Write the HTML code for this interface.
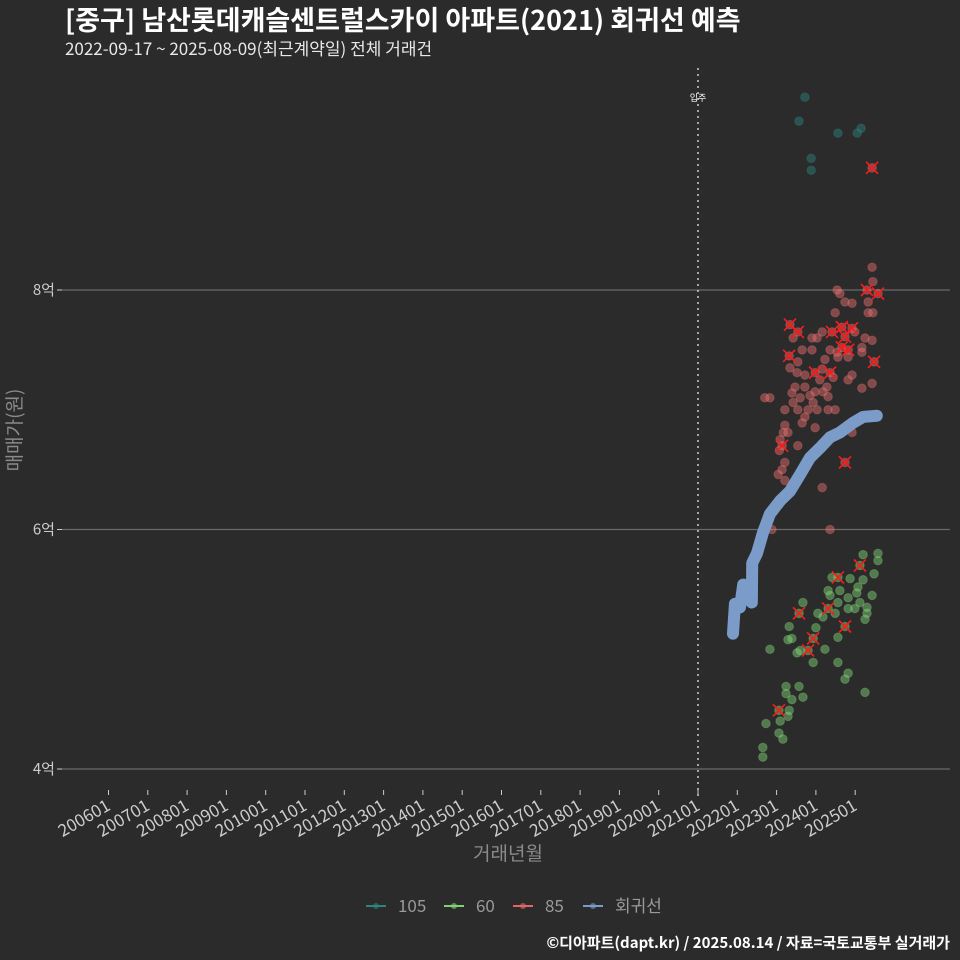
<!DOCTYPE html>
<html><head><meta charset="utf-8">
<style>
html,body{margin:0;padding:0;background:#2b2b2b;}
svg{display:block;}
text{font-family:"Noto Sans CJK KR","Liberation Sans",sans-serif;}
</style></head>
<body>
<svg id="chart" width="960" height="960" viewBox="0 0 960 960">
<rect width="960" height="960" fill="#2b2b2b"/>
<text x="65" y="30" fill="#ffffff" font-size="27" font-weight="bold">[중구] 남산롯데캐슬센트럴스카이 아파트(2021) 회귀선 예측</text>
<text x="65" y="55" fill="#e8e8e8" font-size="17">2022-09-17 ~ 2025-08-09(최근계약일) 전체 거래건</text>
<g id="grid"></g>
<g id="yaxis"></g>
<g id="xaxis"></g>
<g id="marks"></g>
<text transform="translate(21,430) rotate(-90)" text-anchor="middle" fill="#8a8a8a" font-size="19">매매가(원)</text>
<text x="508" y="860" text-anchor="middle" fill="#8a8a8a" font-size="19">거래년월</text>
<g id="legend"></g>
<text x="950" y="948" text-anchor="end" fill="#ffffff" font-size="15" font-weight="bold">©디아파트(dapt.kr) / 2025.08.14 / 자료=국토교통부 실거래가</text>
</svg>
<script>
const yTicks = [4, 6, 8];
const yTickLabels = ["4억", "6억", "8억"];
const xTickYears = [2006,2007,2008,2009,2010,2011,2012,2013,2014,2015,2016,2017,2018,2019,2020,2021,2022,2023,2024,2025];
const xTickLabels = ["200601","200701","200801","200901","201001","201101","201201","201301","201401","201501","201601","201701","201801","201901","202001","202101","202201","202301","202401","202501"];
const moveInYear = 2021;

const t105 = [2023.72,2023.57,2023.88,2023.88,2024.56,2025.05,2025.15];
const v105 = [9.61,9.41,9.10,9.00,9.31,9.31,9.35];

const t85 = [2025.43,2025.45,2025.30,2025.58,2024.54,2024.61,2024.74,2024.92,2025.33,2025.45,2025.33,2023.34,2023.54,2023.42,2023.90,2024.03,2024.16,2024.41,2024.49,2024.66,2024.92,2024.99,2024.74,2025.25,2025.43,2024.66,2024.82,2024.36,2024.54,2025.17,2025.17,2023.65,2023.90,2023.32,2024.82,2024.56,2024.23,2023.34,2023.54,2023.98,2024.16,2024.36,2024.44,2023.72,2023.52,2025.48,2024.92,2024.82,2025.17,2025.43,2024.10,2024.28,2023.47,2023.39,2023.72,2023.98,2024.18,2024.31,2023.85,2022.70,2022.83,2023.60,2023.42,2023.93,2024.03,2023.80,2023.21,2023.54,2023.72,2024.31,2024.49,2023.65,2023.21,2023.17,2023.29,2023.98,2023.14,2023.54,2024.92,2024.74,2023.21,2023.14,2023.04,2023.21,2024.16,2022.88,2024.36,2025.43,2023.09,2023.07];
const v85 = [8.19,8.07,8.00,7.97,8.00,7.97,7.90,7.89,7.90,7.81,7.81,7.71,7.65,7.60,7.60,7.60,7.65,7.65,7.81,7.69,7.68,7.65,7.61,7.60,7.58,7.52,7.50,7.50,7.48,7.52,7.48,7.50,7.50,7.45,7.44,7.44,7.42,7.35,7.40,7.31,7.34,7.31,7.27,7.29,7.31,7.40,7.29,7.25,7.18,7.22,7.25,7.19,7.19,7.14,7.19,7.15,7.15,7.11,7.12,7.10,7.10,7.10,7.06,7.06,7.00,7.00,7.00,7.00,6.94,7.00,7.00,6.89,6.87,6.81,6.81,6.85,6.70,6.70,6.81,6.56,6.56,6.50,6.46,6.41,6.35,6.00,6.00,9.02,6.75,6.66];
const x85 = [0,0,1,1,0,0,0,0,0,0,0,1,1,0,0,0,0,1,0,1,1,0,1,0,0,1,1,0,0,0,0,0,0,1,0,0,0,0,0,1,0,1,0,0,0,1,0,0,0,0,0,0,0,0,0,0,0,0,0,0,0,0,0,0,0,0,0,0,0,0,0,0,0,0,0,0,1,0,0,1,0,0,0,0,0,0,0,1,0,0];

const t60 = [2025.20,2025.58,2025.58,2025.12,2025.48,2024.56,2024.41,2024.87,2025.20,2025.07,2024.31,2024.61,2024.36,2025.04,2025.43,2024.82,2025.12,2024.56,2023.67,2024.31,2024.82,2024.99,2025.30,2025.30,2025.25,2023.57,2024.05,2024.18,2024.49,2024.74,2023.32,2024.00,2024.56,2023.93,2023.39,2023.29,2022.83,2023.80,2023.60,2023.52,2024.23,2023.93,2024.56,2024.82,2024.74,2025.25,2023.24,2023.57,2023.24,2023.67,2023.39,2023.06,2023.32,2023.29,2023.09,2022.73,2023.06,2023.16,2022.65,2022.65];
const v60 = [5.79,5.80,5.74,5.70,5.63,5.60,5.60,5.59,5.58,5.52,5.49,5.49,5.45,5.47,5.45,5.43,5.39,5.39,5.39,5.34,5.34,5.34,5.35,5.30,5.25,5.30,5.30,5.27,5.30,5.19,5.19,5.18,5.10,5.09,5.09,5.08,5.00,4.99,4.99,4.97,5.00,4.89,4.89,4.80,4.75,4.64,4.69,4.69,4.63,4.60,4.58,4.49,4.49,4.44,4.40,4.38,4.30,4.25,4.18,4.10];
const x60 = [0,0,0,1,0,1,0,0,0,0,0,0,0,0,0,0,0,0,0,1,0,0,0,0,0,1,0,0,0,1,0,0,0,1,0,0,0,1,0,0,0,0,0,0,0,0,0,0,0,0,0,1,0,0,0,0,0,0,0,0];

const tReg = [2021.89,2021.94,2022.07,2022.15,2022.32,2022.37,2022.38,2022.50,2022.65,2022.83,2023.09,2023.34,2023.60,2023.85,2024.10,2024.36,2024.61,2024.94,2025.20,2025.55];
const vReg = [5.13,5.38,5.35,5.54,5.41,5.39,5.72,5.80,5.97,6.13,6.24,6.32,6.46,6.60,6.68,6.77,6.81,6.89,6.94,6.95];

const NS = "http://www.w3.org/2000/svg";
function xs(t){ return 108.5 + (t - 2006) * 39.3; }
function ys(v){ return 769 - (v - 4) * 119.75; }
function mk(tag, attrs, parent){ const e = document.createElementNS(NS, tag); for (const k in attrs) e.setAttribute(k, attrs[k]); parent.appendChild(e); return e; }

const grid = document.getElementById('grid');
const yaxis = document.getElementById('yaxis');
const xaxis = document.getElementById('xaxis');
const marks = document.getElementById('marks');
const legend = document.getElementById('legend');

yTicks.forEach((v, i) => {
  const gl = mk('line', {x1: 62, x2: 950, y1: ys(v), y2: ys(v), stroke: '#6a6a6a', 'stroke-width': 1.2}, grid);
  
  
  const tk = mk('line', {x1: 57, x2: 62, y1: ys(v), y2: ys(v), stroke: '#cccccc', 'stroke-width': 1}, yaxis);
  
  
  const lb = mk('text', {x: 55, y: ys(v) + 5, 'text-anchor': 'end', fill: '#cccccc', 'font-size': 15}, yaxis);
  lb.textContent = yTickLabels[i];
  
  
});

xTickYears.forEach((y, i) => {
  const x = xs(y);
  const tk = mk('line', {x1: x, x2: x, y1: 790, y2: 795, stroke: '#cccccc', 'stroke-width': 1}, xaxis);
  
  
  const lb = mk('text', {x: x + 3, y: 809, 'text-anchor': 'end', fill: '#cccccc', 'font-size': 17, transform: 'rotate(-30 ' + (x + 3) + ' 809)'}, xaxis);
  lb.textContent = xTickLabels[i];
  
  
});

const mv = mk('line', {x1: xs(moveInYear), x2: xs(moveInYear), y1: 68, y2: 800, stroke: '#cfcfcf', 'stroke-width': 1.5, 'stroke-dasharray': '2,4'}, marks);


const mvl = mk('text', {x: xs(moveInYear), y: 101, 'text-anchor': 'middle', fill: '#ffffff', 'font-size': 9}, marks);
mvl.textContent = '입주';



function drawPoints(ts, vs, color, name){
  ts.forEach((t, i) => {
    const c = mk('circle', {cx: xs(t), cy: ys(vs[i]), r: 4.3, fill: color, 'fill-opacity': 0.45, stroke: color, 'stroke-opacity': 0.3, 'stroke-width': 1}, marks);
    
    
  });
}
function drawX(ts, vs, flags){
  ts.forEach((t, i) => {
    if (!flags[i]) return;
    const x = xs(t), y = ys(vs[i]), s = 6;
    const p = mk('path', {d: 'M' + (x - s) + ' ' + (y - s) + 'L' + (x + s) + ' ' + (y + s) + 'M' + (x + s) + ' ' + (y - s) + 'L' + (x - s) + ' ' + (y + s), stroke: '#ff1a1a', 'stroke-width': 1.6}, marks);
    
    
  });
}
drawPoints(t105, v105, '#2e8580', 'point-105');
drawPoints(t85, v85, '#ee7070', 'point-85');
drawPoints(t60, v60, '#86d97a', 'point-60');

let d = '';
tReg.forEach((t, i) => { d += (i ? 'L' : 'M') + xs(t) + ' ' + ys(vReg[i]); });
const reg = mk('path', {d: d, fill: 'none', stroke: '#7b9cc8', 'stroke-width': 12, 'stroke-linecap': 'round', 'stroke-linejoin': 'round'}, marks);



drawX(t85, v85, x85);
drawX(t60, v60, x60);

const legItems = [['105', '#2e8580', 366], ['60', '#7fd173', 444], ['85', '#e46565', 513], ['회귀선', '#7b9cc8', 583]];
legItems.forEach(it => {
  const g = mk('g', {}, legend);
  
  
  mk('line', {x1: it[2], x2: it[2] + 20, y1: 906, y2: 906, stroke: it[1], 'stroke-width': 2}, g);
  mk('circle', {cx: it[2] + 10, cy: 906, r: 3, fill: it[1], 'fill-opacity': 0.6}, g);
  const tx = mk('text', {x: it[2] + 32, y: 912, fill: '#9a9a9a', 'font-size': 17}, g);
  tx.textContent = it[0];
});
</script>
</body></html>
